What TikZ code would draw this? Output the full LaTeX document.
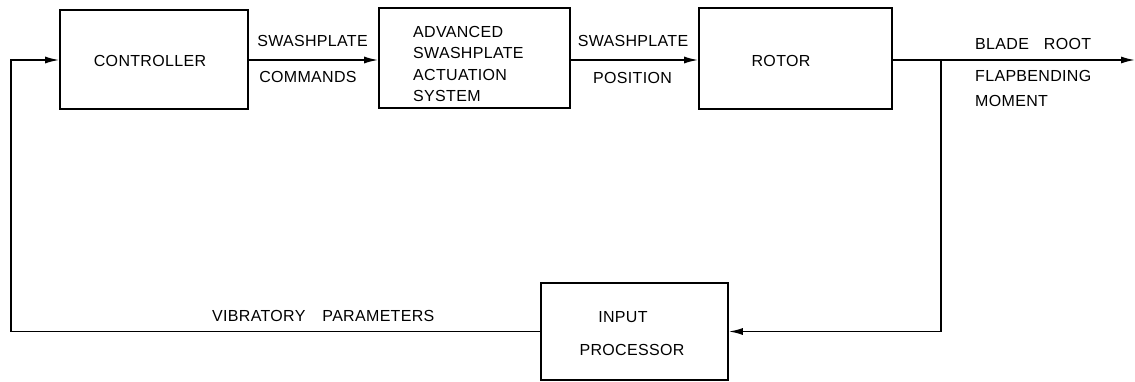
\documentclass[tikz,border=0pt]{standalone}
\usepackage{fontspec}
\setmainfont{Liberation Sans}[LetterSpace=2]
\usetikzlibrary{arrows.meta}
\begin{document}
\begin{tikzpicture}[x=1pt,y=-1pt,
  blk/.style={draw, line width=1.6pt, rectangle, inner sep=0pt},
  txt/.style={inner sep=0pt, font=\fontsize{16}{19}\selectfont},
  wire/.style={line width=1.6pt},
  arr/.style={wire, -{Latex[length=14pt,width=7pt]}}]
\useasboundingbox (0,0) rectangle (1135,382);
% boxes
\node[blk, minimum width=188pt, minimum height=99pt] (ctrl) at (154,59.5) {};
\node[blk, minimum width=191pt, minimum height=100pt] (asas) at (474.5,58) {};
\node[blk, minimum width=193pt, minimum height=101pt] (rotor) at (795.5,58.5) {};
\node[blk, minimum width=187pt, minimum height=97pt] (ip) at (634.5,331.5) {};
% texts
\node[txt] (tctrl) at (150,61) {CONTROLLER};
\node[txt, anchor=west] (ta1) at (413,31.5) {ADVANCED};
\node[txt, anchor=west] (ta2) at (413,53) {SWASHPLATE};
\node[txt, anchor=west] (ta3) at (413,75) {ACTUATION};
\node[txt, anchor=west] (ta4) at (413,96) {SYSTEM};
\node[txt] (trot) at (781,61) {ROTOR};
\node[txt] (tip1) at (623,317) {INPUT};
\node[txt] (tip2) at (632,350) {PROCESSOR};
\node[txt] (l1a) at (312.5,41) {SWASHPLATE};
\node[txt] (l1b) at (308,77) {COMMANDS};
\node[txt] (l2a) at (633,41) {SWASHPLATE};
\node[txt] (l2b) at (632.5,78) {POSITION};
\node[txt, anchor=west] (l3a) at (975,44) {BLADE\hspace{15pt}ROOT};
\node[txt, anchor=west] (l3b) at (975,76) {FLAPBENDING};
\node[txt, anchor=west] (l3c) at (975,101) {MOMENT};
\node[txt, anchor=west] (l4) at (212,316) {VIBRATORY\hspace{17pt}PARAMETERS};
% connectors
\coordinate (out) at (1135,60);
\coordinate (br) at (941,60);
\coordinate (fb) at (11,60);
\draw[arr] (ctrl.east |- out) -- (asas.west |- out);
\draw[arr] (asas.east |- out) -- (rotor.west |- out);
\draw[arr] (rotor.east |- out) -- (out);
\draw[arr] (br) |- (ip.east);
\draw[arr] (ip.west) -| (fb) -- (ctrl.west |- fb);
\end{tikzpicture}
\end{document}
